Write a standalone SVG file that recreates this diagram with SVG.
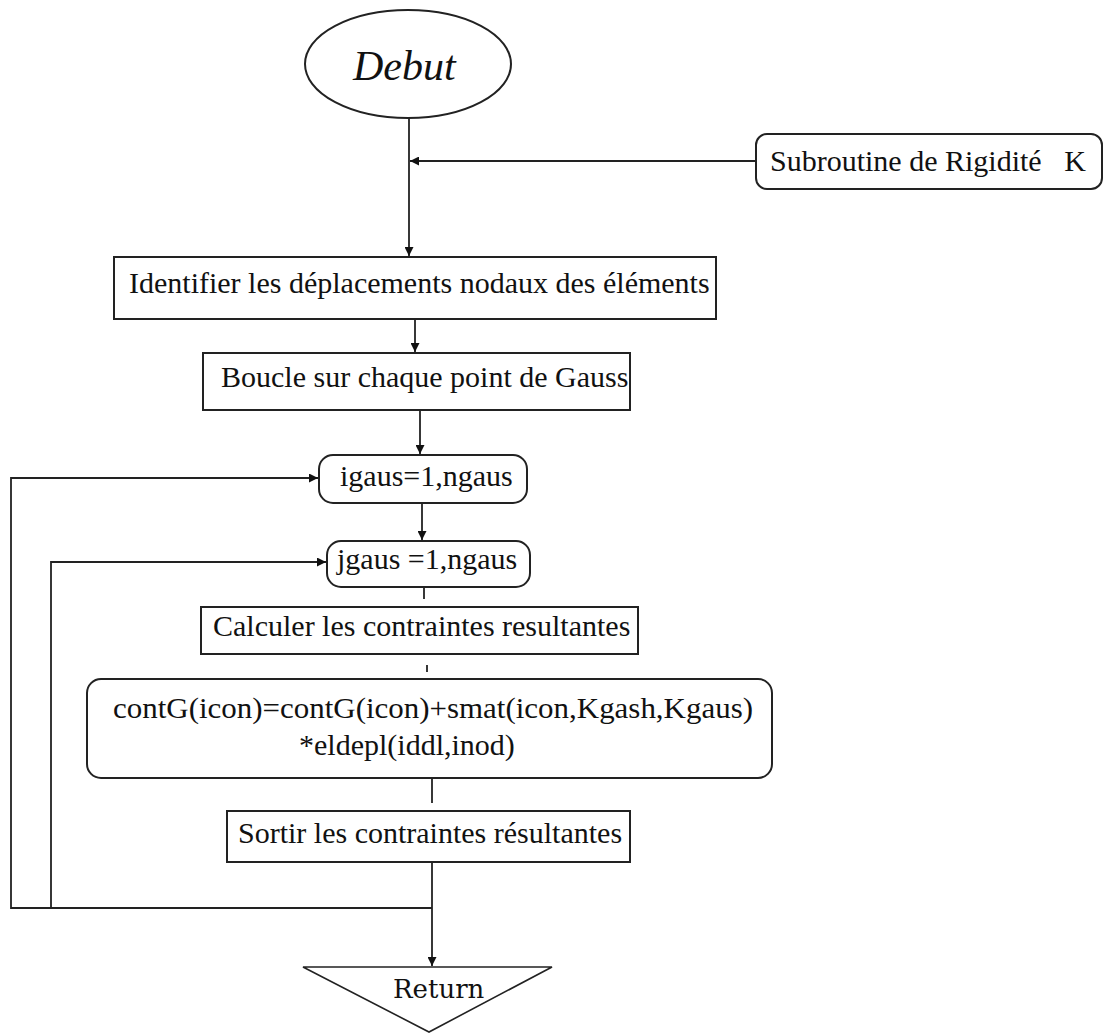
<svg xmlns="http://www.w3.org/2000/svg" width="1105" height="1033" viewBox="0 0 1105 1033">
  <style>
    .box { fill: #fff; stroke: #222; stroke-width: 2; }
    .line { fill: none; stroke: #222; stroke-width: 1.8; }
    .lbl { font-family: "Liberation Serif", "Times New Roman", serif; font-size: 30px; fill: #111; }
    .script { font-family: "Liberation Serif", serif; font-style: italic; font-size: 42px; fill: #111; }
    .ret { font-family: "DejaVu Serif", serif; font-size: 26px; fill: #111; }
  </style>
  <defs>
    <marker id="arrow" viewBox="0 0 10 10" refX="10" refY="5" markerWidth="9" markerHeight="9" markerUnits="userSpaceOnUse" orient="auto">
      <path d="M0,0 L10,5 L0,10 Z" fill="#111"/>
    </marker>
  </defs>
  <rect width="1105" height="1033" fill="#fff"/>

  <g id="connectors">
    <line class="line" x1="409" y1="118" x2="409" y2="256" marker-end="url(#arrow)"/>
    <line class="line" x1="756" y1="161" x2="410" y2="161" marker-end="url(#arrow)"/>
    <line class="line" x1="415" y1="319" x2="415" y2="352" marker-end="url(#arrow)"/>
    <line class="line" x1="420" y1="410" x2="420" y2="454" marker-end="url(#arrow)"/>
    <polyline class="line" points="432,908 11,908 11,478 318,478" marker-end="url(#arrow)"/>
    <polyline class="line" points="51,908 51,562 326,562" marker-end="url(#arrow)"/>
    <line class="line" x1="422" y1="503" x2="422" y2="540" marker-end="url(#arrow)"/>
    <line class="line" x1="424" y1="587" x2="424" y2="599"/>
    <line class="line" x1="427" y1="665" x2="427" y2="672"/>
    <line class="line" x1="432" y1="778" x2="432" y2="803"/>
    <line class="line" x1="432" y1="862" x2="432" y2="966" marker-end="url(#arrow)"/>
  </g>

  <g id="debut">
    <ellipse class="box" cx="408" cy="64" rx="103" ry="54"/>
    <text class="script" x="353" y="80">Debut</text>
  </g>

  <g id="subroutine">
    <rect class="box" x="756" y="134" width="346" height="55" rx="11"/>
    <text class="lbl" x="770" y="171" xml:space="preserve">Subroutine de Rigidité   K</text>
  </g>

  <g id="identifier">
    <rect class="box" x="114" y="257" width="602" height="62"/>
    <text class="lbl" x="129" y="293">Identifier les déplacements nodaux des éléments</text>
  </g>

  <g id="boucle">
    <rect class="box" x="203" y="353" width="427" height="57"/>
    <text class="lbl" x="221" y="387">Boucle sur chaque point de Gauss</text>
  </g>

  <g id="igaus">
    <rect class="box" x="319" y="455" width="208" height="48" rx="14"/>
    <text class="lbl" x="340" y="486">igaus=1,ngaus</text>
  </g>

  <g id="jgaus">
    <rect class="box" x="327" y="541" width="203" height="46" rx="14"/>
    <text class="lbl" x="337" y="569">jgaus =1,ngaus</text>
  </g>

  <g id="calculer">
    <rect class="box" x="201" y="607" width="437" height="47"/>
    <text class="lbl" x="213" y="636">Calculer les contraintes resultantes</text>
  </g>

  <g id="contg">
    <rect class="box" x="87" y="679" width="685" height="99" rx="14"/>
    <text class="lbl" x="113" y="718" textLength="640" lengthAdjust="spacingAndGlyphs">contG(icon)=contG(icon)+smat(icon,Kgash,Kgaus)</text>
    <text class="lbl" x="299" y="755">*eldepl(iddl,inod)</text>
  </g>

  <g id="sortir">
    <rect class="box" x="227" y="811" width="403" height="51"/>
    <text class="lbl" x="238" y="843">Sortir les contraintes résultantes</text>
  </g>

  <g id="return">
    <polygon fill="#fff" stroke="#222" stroke-width="1.6" points="303,967 552,967 429,1032"/>
    <text class="ret" x="393" y="998">Return</text>
  </g>
</svg>
